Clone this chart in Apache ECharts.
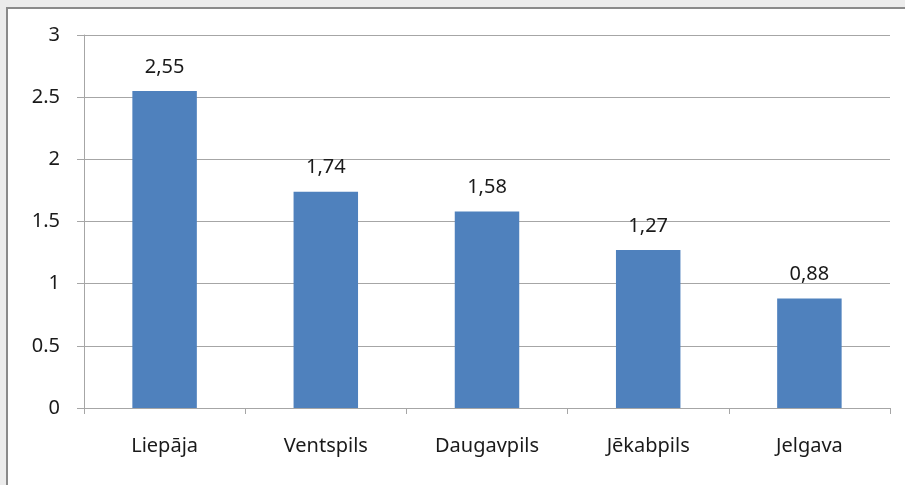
<!DOCTYPE html>
<html>
<head>
<meta charset="utf-8">
<script src="https://cdn.jsdelivr.net/npm/echarts@6/dist/echarts.min.js"></script>
<style>
  html, body { margin: 0; padding: 0; background: #ececec; }
  #frame { position: absolute; left: 6px; top: 7px; width: 899px; height: 478px;
           background: #fff; border-left: 2px solid #8a8a8a; border-top: 2px solid #8a8a8a; }
  #main { position: absolute; left: 0; top: 0; width: 905px; height: 485px; }
</style>
</head>
<body>
<div id="frame"></div>
<div id="main"></div>
<script>
// pilsētas un vērtības
var cities = ['Liepāja', 'Ventspils', 'Daugavpils', 'Jēkabpils', 'Jelgava'];
var values = [2.55, 1.74, 1.58, 1.27, 0.88];
var yTicks = [0, 0.5, 1, 1.5, 2, 2.5, 3];

var font = 'Noto Sans';
var myChart = echarts.init(document.getElementById('main'));
myChart.setOption({
  animation: false,
  textStyle: { fontFamily: font },
  grid: { left: 84, right: 15, top: 35, bottom: 77 },
  xAxis: {
    type: 'category',
    data: cities,
    axisLine: { lineStyle: { color: '#a6a6a6', width: 1 } },
    axisTick: { show: true, length: 6, lineStyle: { color: '#a6a6a6' } },
    axisLabel: { color: '#1a1a1a', fontSize: 20, margin: 28, fontFamily: font }
  },
  yAxis: {
    type: 'value',
    min: 0,
    max: 3,
    interval: 0.5,
    axisLine: { show: true, lineStyle: { color: '#a6a6a6' } },
    axisTick: { show: true, length: 7, lineStyle: { color: '#a6a6a6' } },
    splitLine: { lineStyle: { color: '#a6a6a6' } },
    axisLabel: {
      color: '#1a1a1a', fontSize: 20, margin: 24, fontFamily: font,
      formatter: function (v) { return yTicks.indexOf(v) >= 0 ? String(v) : ''; }
    }
  },
  series: [{
    type: 'bar',
    data: values,
    barWidth: '40%',
    itemStyle: { color: '#4f81bd' },
    label: {
      show: true,
      position: 'top',
      distance: 14,
      color: '#1a1a1a',
      fontSize: 20,
      fontFamily: font,
      formatter: function (p) { return p.value.toFixed(2).replace('.', ','); }
    }
  }]
});
</script>
</body>
</html>
